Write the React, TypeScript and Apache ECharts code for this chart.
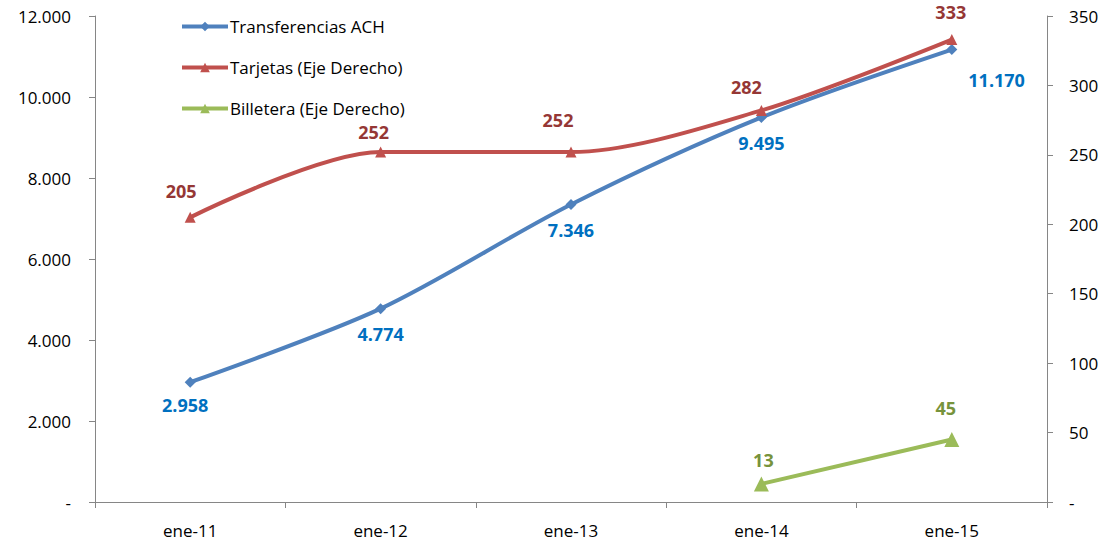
import React, { useEffect, useRef } from "react";
import * as echarts from "echarts";

const categories = ["ene-11", "ene-12", "ene-13", "ene-14", "ene-15"];
const transferencias = [2958, 4774, 7346, 9495, 11170];
const tarjetas = [205, 252, 252, 282, 333];
const billetera: (number | null)[] = [null, null, null, 13, 45];
const leftTicks = [0, 2000, 4000, 6000, 8000, 10000, 12000];
const rightTicks = [0, 50, 100, 150, 200, 250, 300, 350];

const fmt = (v: number) =>
  v === 0 ? "-" : String(Math.round(v)).replace(/\B(?=(\d{3})+(?!\d))/g, ".");

const FONT = "'Open Sans', 'Noto Sans', sans-serif";

export default function App() {
  const ref = useRef<HTMLDivElement>(null);
  useEffect(() => {
    if (!ref.current) return;
    const chart = echarts.init(ref.current, null, { renderer: "svg" });
    const axisLine = { show: true, lineStyle: { color: "#868686", width: 1 } };
    const labelStyle = { color: "#000", fontSize: 17, fontFamily: FONT };
    const dl = { fontWeight: "bold", fontSize: 18, lineHeight: 18, fontFamily: FONT };
    chart.setOption({
      animation: false,
      backgroundColor: "#fff",
      grid: { left: 95, right: 62, top: 16, bottom: 41, containLabel: false },
      legend: {
        orient: "vertical",
        left: 175,
        top: 13,
        itemWidth: 46,
        itemHeight: 12,
        itemGap: 24,
        lineStyle: { width: 4 },
        textStyle: { fontSize: 17, lineHeight: 17, fontFamily: FONT, color: "#000", padding: [0, 0, 0, -3] },
        data: ["Transferencias ACH", "Tarjetas (Eje Derecho)", "Billetera (Eje Derecho)"],
      },
      xAxis: {
        type: "category",
        data: categories,
        boundaryGap: true,
        axisLine,
        axisTick: { show: true, inside: false, length: 6, lineStyle: { color: "#868686" } },
        axisLabel: { ...labelStyle, margin: 20 },
        splitLine: { show: false },
      },
      yAxis: [
        {
          type: "value",
          min: leftTicks[0],
          max: leftTicks[leftTicks.length - 1],
          interval: 2000,
          position: "left",
          axisLine,
          axisTick: { show: true, length: 6, lineStyle: { color: "#868686" } },
          axisLabel: { ...labelStyle, margin: 24, formatter: (v: number) => fmt(v) },
          splitLine: { show: false },
        },
        {
          type: "value",
          min: rightTicks[0],
          max: rightTicks[rightTicks.length - 1],
          interval: 50,
          position: "right",
          axisLine,
          axisTick: { show: true, length: 6, lineStyle: { color: "#868686" } },
          axisLabel: { ...labelStyle, margin: 22, formatter: (v: number) => fmt(v) },
          splitLine: { show: false },
        },
      ],
      series: [
        {
          name: "Transferencias ACH",
          type: "line",
          yAxisIndex: 0,
          smooth: 0.3,
          data: transferencias.map((v, i) =>
            i === 4
              ? { value: v, label: { position: "right", offset: [0, 30] } }
              : i === 0
              ? { value: v, label: { offset: [-5, -3] } }
              : v
          ),
          symbol: "diamond",
          symbolSize: 11,
          itemStyle: { color: "#4F81BD" },
          lineStyle: { color: "#4F81BD", width: 4 },
          label: {
            show: true,
            position: "bottom",
            distance: 11,
            color: "#0070C0",
            ...dl,
            formatter: (p: any) => fmt(p.value),
          },
        },
        {
          name: "Tarjetas (Eje Derecho)",
          type: "line",
          yAxisIndex: 1,
          smooth: 0.3,
          data: tarjetas.map((v, i) =>
            i === 0
              ? { value: v, label: { offset: [-9, 0] } }
              : i === 1
              ? { value: v, label: { offset: [-7, 6] } }
              : i === 2
              ? { value: v, label: { offset: [-13, -6] } }
              : i === 3
              ? { value: v, label: { offset: [-15, 3] } }
              : { value: v, label: { offset: [-1, -1] } }
          ),
          symbol: "triangle",
          symbolSize: 11,
          itemStyle: { color: "#C0504D" },
          lineStyle: { color: "#C0504D", width: 4 },
          label: {
            show: true,
            position: "top",
            distance: 12,
            color: "#953735",
            ...dl,
          },
        },
        {
          name: "Billetera (Eje Derecho)",
          type: "line",
          yAxisIndex: 1,
          data: billetera.map((v, i) =>
            i === 4
              ? { value: v, label: { offset: [-6, -5] } }
              : i === 3
              ? { value: v, label: { offset: [2, 3] } }
              : v
          ),
          symbol: "triangle",
          symbolSize: 15,
          itemStyle: { color: "#9BBB59" },
          lineStyle: { color: "#9BBB59", width: 4 },
          label: {
            show: true,
            position: "top",
            distance: 10,
            color: "#77933C",
            ...dl,
          },
        },
      ],
    });
    return () => chart.dispose();
  }, []);
  return <div ref={ref} style={{ width: 1109, height: 543, position: "absolute", left: 0, top: 0 }} />;
}
